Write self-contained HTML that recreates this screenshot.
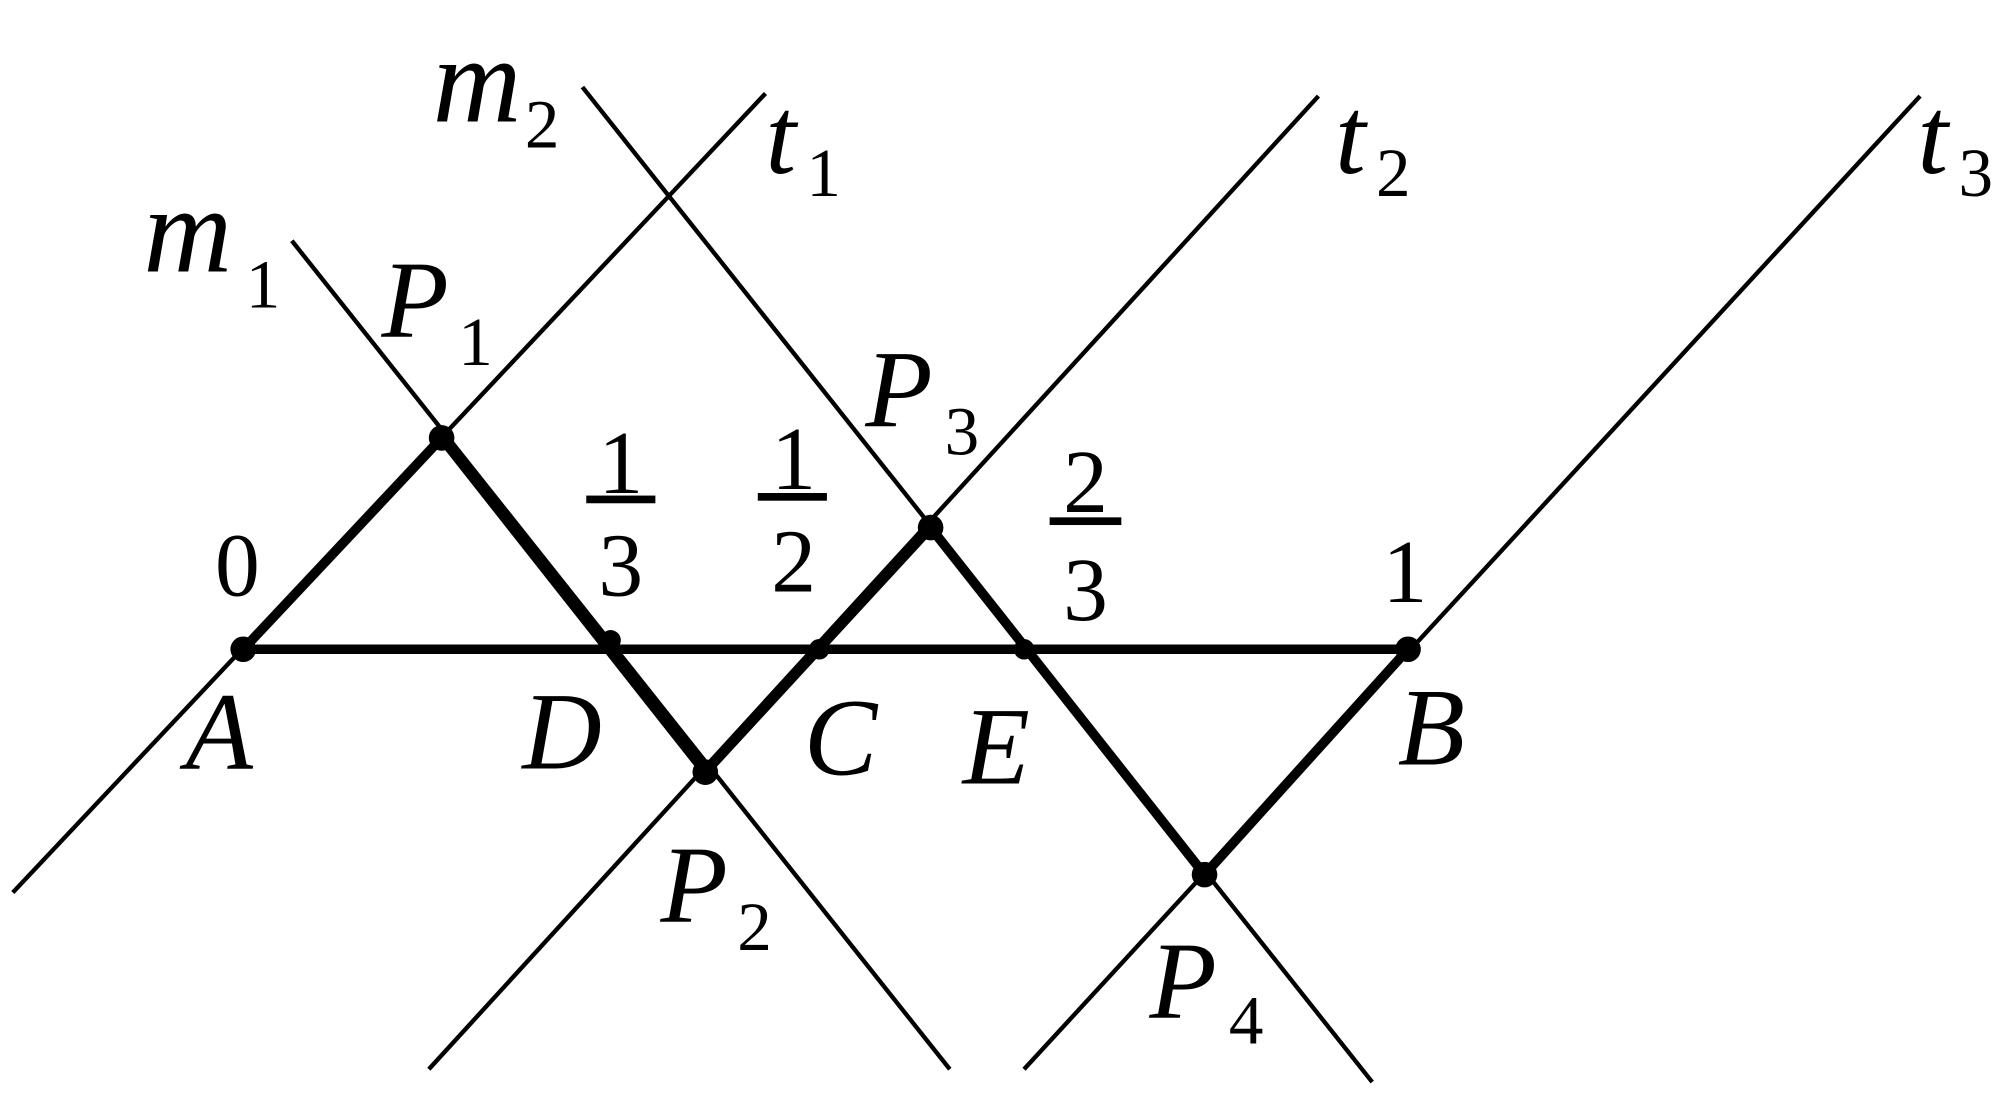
<!DOCTYPE html>
<html><head><meta charset="utf-8"><style>
html,body{margin:0;padding:0;background:#fff;}
svg{display:block;}
text{font-family:"Liberation Serif",serif;fill:#000;}
.i{font-style:italic;font-size:86px;}
.m{font-style:italic;font-size:96px;}
.s{font-size:54px;}
.d{font-size:70px;}
</style></head><body>
<svg width="2002" height="1100" viewBox="0 0 1564 859" preserveAspectRatio="none" xmlns="http://www.w3.org/2000/svg">
<g stroke="#000" stroke-width="3.4" fill="none" stroke-linecap="butt">
<line x1="10" y1="697" x2="598" y2="73"/>
<line x1="228" y1="188" x2="742" y2="835"/>
<line x1="455" y1="68" x2="1072" y2="845"/>
<line x1="1030" y1="75" x2="335" y2="835"/>
<line x1="1500" y1="75" x2="800" y2="835"/>
</g>
<g stroke="#000" stroke-width="7.5" fill="none" stroke-linejoin="round">
<polyline points="190,507 345,342 551,603 727,412 941,683 1100,507"/>
<line x1="190" y1="507" x2="1100" y2="507"/>
</g>
<g fill="#000">
<circle cx="190" cy="507" r="10"/><circle cx="345" cy="342" r="10"/>
<circle cx="551" cy="603" r="10"/><circle cx="727" cy="412" r="10"/>
<circle cx="941" cy="683" r="10"/><circle cx="1100" cy="507" r="10"/>
<circle cx="477" cy="500" r="8"/><circle cx="640" cy="507" r="8"/><circle cx="800" cy="507" r="8"/>
</g>
<text class="m" x="112" y="212">m</text><text class="s" x="192" y="240">1</text>
<text class="m" x="338" y="95">m</text><text class="s" x="410" y="115">2</text>
<text class="i" x="598" y="135">t</text><text class="s" x="630" y="153">1</text>
<text class="i" x="1043" y="135">t</text><text class="s" x="1075" y="153">2</text>
<text class="i" x="1498" y="135">t</text><text class="s" x="1530" y="153">3</text>
<text class="i" x="298" y="263">P</text><text class="s" x="358" y="285">1</text>
<text class="i" x="676" y="333">P</text><text class="s" x="738" y="355">3</text>
<text class="i" x="516" y="720">P</text><text class="s" x="576" y="742">2</text>
<text class="i" x="898" y="795">P</text><text class="s" x="960" y="815">4</text>
<text class="d" x="168" y="465">0</text>
<text class="d" x="1080" y="470">1</text>
<text class="d" x="485" y="385" text-anchor="middle">1</text>
<rect x="458" y="387" width="54" height="6" fill="#000"/>
<text class="d" x="485" y="465" text-anchor="middle">3</text>
<text class="d" x="620" y="382" text-anchor="middle">1</text>
<rect x="592" y="385" width="54" height="6" fill="#000"/>
<text class="d" x="620" y="462" text-anchor="middle">2</text>
<text class="d" x="848" y="400" text-anchor="middle">2</text>
<rect x="820" y="404" width="56" height="6" fill="#000"/>
<text class="d" x="848" y="484" text-anchor="middle">3</text>
<text class="i" x="145" y="600">A</text>
<text class="i" x="408" y="600">D</text>
<text class="i" x="628" y="605">C</text>
<text class="i" x="752" y="612">E</text>
<text class="i" x="1092" y="597">B</text>
</svg>
</body></html>
